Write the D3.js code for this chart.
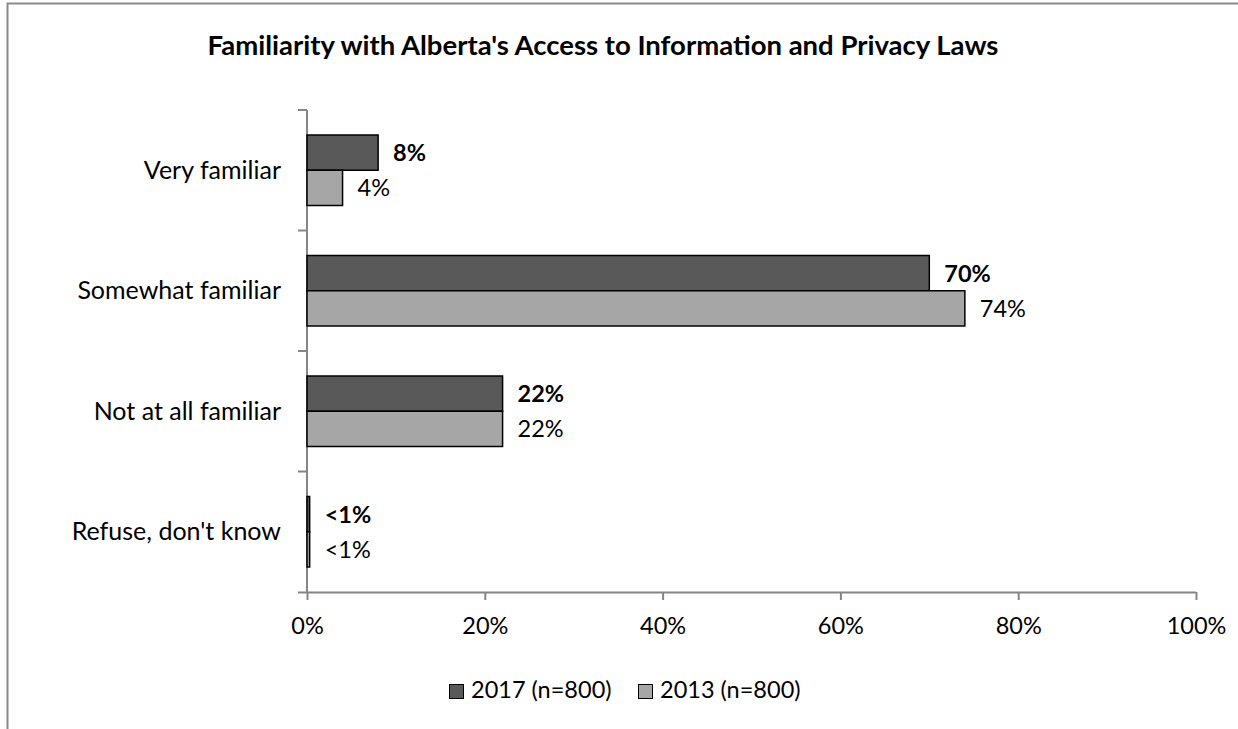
<!DOCTYPE html>
<html>
<head>
<meta charset="utf-8">
<script src="https://cdn.jsdelivr.net/npm/d3@7"></script>
<style>
  html, body { margin: 0; padding: 0; background: #fff; }
  svg { display: block; font-family: Lato, "Open Sans", sans-serif; }
</style>
</head>
<body>
<svg id="chart" width="1238" height="729"></svg>
<script>
// Survey categories and results (percent of respondents)
const categories = ["Very familiar", "Somewhat familiar", "Not at all familiar", "Refuse, don't know"];
const values2017 = [8, 70, 22, 0.3];
const values2013 = [4, 74, 22, 0.3];
const labels2017 = ["8%", "70%", "22%", "<1%"];
const labels2013 = ["4%", "74%", "22%", "<1%"];
const seriesNames = ["2017 (n=800)", "2013 (n=800)"];
const xTicks = [0, 20, 40, 60, 80, 100];

const series = [
  { name: seriesNames[0], values: values2017, labels: labels2017, fill: "#595959", bold: true },
  { name: seriesNames[1], values: values2013, labels: labels2013, fill: "#a6a6a6", bold: false }
];

const FS_TEXT = 25;   // category text
const FS_NUM = 23.5;  // numbers on the axis, bars and legend

const svg = d3.select("#chart");
const W = 1238, H = 729;
const plot = { left: 307, right: 1196, top: 110, bottom: 592 };

// Outer frame (left and top edges)
svg.append("path")
  .attr("d", `M7.5,${H} V3.5 H${W}`)
  .attr("fill", "none").attr("stroke", "#8a8a8a").attr("stroke-width", 2);

// Title
svg.append("text")
  .attr("x", 603).attr("y", 55)
  .attr("text-anchor", "middle")
  .attr("font-weight", "bold").attr("font-size", 27.5)
  .attr("fill", "#000")
  .text("Familiarity with Alberta's Access to Information and Privacy Laws");

const x = d3.scaleLinear().domain([0, 100]).range([plot.left, plot.right]);
const y = d3.scaleBand().domain(categories).range([plot.top, plot.bottom]);
// two bars of ~35px centred in each ~120px category band
const inner = d3.scaleBand().domain(seriesNames)
  .range([25, y.bandwidth() - 25]).padding(0);

// X axis
const xAxis = d3.axisBottom(x).tickValues(xTicks).tickFormat(d => d + "%").tickSize(8).tickSizeOuter(0);
const gx = svg.append("g").attr("transform", `translate(0,${plot.bottom})`).call(xAxis);
gx.select(".domain").attr("d", `M${plot.left - 9},0.5H${plot.right}`).attr("stroke", "#868686").attr("stroke-width", 2);
gx.selectAll(".tick line").attr("stroke", "#868686").attr("stroke-width", 2);
gx.selectAll(".tick text")
  .attr("font-size", FS_NUM).attr("fill", "#000")
  .attr("y", 42).attr("dy", 0)
  .attr("font-family", "Lato, sans-serif");

// Y axis: ticks on category boundaries
const boundaries = categories.map(c => y(c));
const gy = svg.append("g");
gy.append("line")
  .attr("x1", plot.left).attr("x2", plot.left)
  .attr("y1", plot.top).attr("y2", plot.bottom)
  .attr("stroke", "#868686").attr("stroke-width", 2);
gy.selectAll("line.tk").data(boundaries).join("line")
  .attr("class", "tk")
  .attr("x1", plot.left - 9).attr("x2", plot.left)
  .attr("y1", d => d).attr("y2", d => d)
  .attr("stroke", "#868686").attr("stroke-width", 2);
gy.selectAll("text").data(categories).join("text")
  .attr("x", plot.left - 26)
  .attr("y", d => y(d) + y.bandwidth() / 2 + 8.5)
  .attr("text-anchor", "end")
  .attr("font-size", FS_TEXT)
  .attr("fill", "#000")
  .text(d => d);

// Bars and value labels
series.forEach(s => {
  const g = svg.append("g");
  g.selectAll("rect").data(categories).join("rect")
    .attr("x", x(0))
    .attr("y", (c) => y(c) + inner(s.name))
    .attr("width", (c, i) => x(s.values[i]) - x(0))
    .attr("height", inner.bandwidth())
    .attr("fill", s.fill)
    .attr("stroke", "#000").attr("stroke-width", 1.5);
  g.selectAll("text").data(categories).join("text")
    .attr("x", (c, i) => x(s.values[i]) + 15)
    .attr("y", (c) => y(c) + inner(s.name) + inner.bandwidth() / 2 + 8.5)
    .attr("font-size", FS_NUM)
    .attr("font-weight", s.bold ? "bold" : "normal")
    .attr("fill", "#000")
    .text((c, i) => s.labels[i]);
});

// Legend
const legend = svg.append("g");
const legendX = [449, 638];
series.forEach((s, i) => {
  legend.append("rect")
    .attr("x", legendX[i] + 0.5).attr("y", 684.5)
    .attr("width", 14).attr("height", 14)
    .attr("fill", s.fill).attr("stroke", "#000").attr("stroke-width", 1);
  legend.append("text")
    .attr("x", legendX[i] + 22).attr("y", 698)
    .attr("font-size", FS_NUM).attr("fill", "#000")
    .text(s.name);
});
</script>
</body>
</html>
